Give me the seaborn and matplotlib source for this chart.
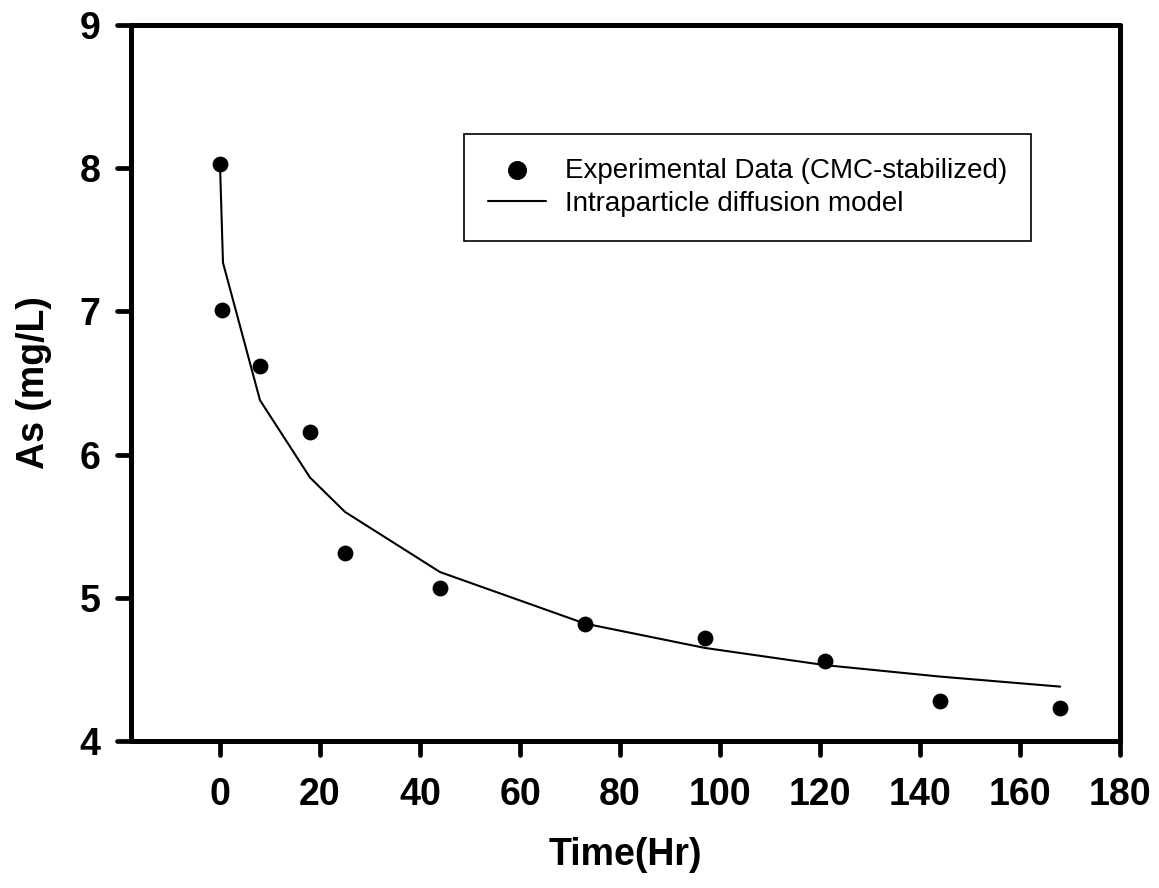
import matplotlib
matplotlib.use("Agg")
import matplotlib.pyplot as plt
from matplotlib.markers import MarkerStyle, TICKDOWN, TICKLEFT
import seaborn as sns
import pandas as pd

# Measured arsenic concentration over time (CMC-stabilized particles)
time_exp = [0, 0.5, 8, 18, 25, 44, 73, 97, 121, 144, 168]
as_exp = [8.03, 7.01, 6.62, 6.16, 5.31, 5.07, 4.82, 4.72, 4.56, 4.28, 4.23]

# Intraparticle diffusion model fit
time_model = [0, 0.6, 8, 18, 25, 44, 73, 97, 121, 144, 168]
as_model = [8.03, 7.34, 6.38, 5.84, 5.60, 5.18, 4.82, 4.65, 4.53, 4.45, 4.38]

x_ticks = [0, 20, 40, 60, 80, 100, 120, 140, 160, 180]
y_ticks = [4, 5, 6, 7, 8, 9]

label_exp = "Experimental Data (CMC-stabilized)"
label_model = "Intraparticle diffusion model"

sns.set_theme(style="white", rc={"text.color": "black", "axes.labelcolor": "black",
                                 "xtick.color": "black", "ytick.color": "black"})
plt.rcParams["font.family"] = ["Liberation Sans", "DejaVu Sans"]

df_exp = pd.DataFrame({"time": time_exp, "As": as_exp})
df_model = pd.DataFrame({"time": time_model, "As": as_model})

fig = plt.figure(figsize=(11.59, 8.88), dpi=100)
ax = fig.add_axes([0.113, 0.1655, 0.8535, 0.8063])

sns.scatterplot(data=df_exp, x="time", y="As", ax=ax, color="black",
                s=130, edgecolor="black", linewidth=0, label=label_exp, zorder=3)
sns.lineplot(data=df_model, x="time", y="As", ax=ax, color="black",
             linewidth=1.5, label=label_model, estimator=None, sort=False, zorder=2)

ax.set_xlim(-17.8, 180)
ax.set_ylim(4, 9)
ax.set_xticks(x_ticks)
ax.set_yticks(y_ticks)

for side in ["left", "right", "top", "bottom"]:
    ax.spines[side].set_visible(True)
    ax.spines[side].set_color("black")
    ax.spines[side].set_linewidth(3.6)
    ax.spines[side].set_capstyle("round")

ax.tick_params(axis="both", which="major", direction="out", length=10, width=3.4,
               color="black", labelsize=27, labelcolor="black",
               left=True, bottom=True, right=False, top=False)
ax.tick_params(axis="x", pad=16)
ax.tick_params(axis="y", pad=12)
for lab in ax.get_xticklabels() + ax.get_yticklabels():
    lab.set_fontweight("bold")

# rounded tick ends
for t in ax.xaxis.get_major_ticks():
    t.tick1line.set_marker(MarkerStyle(TICKDOWN, capstyle="round"))
for t in ax.yaxis.get_major_ticks():
    t.tick1line.set_marker(MarkerStyle(TICKLEFT, capstyle="round"))

ax.set_xlabel("Time(Hr)", fontsize=27, fontweight="bold", labelpad=17, color="black")
ax.set_ylabel("As (mg/L)", fontsize=27, fontweight="bold", labelpad=20, color="black")

leg = ax.legend(loc="upper left", bbox_to_anchor=(0.3367, 0.8478), borderaxespad=0,
                frameon=True, fancybox=False, fontsize=20, handlelength=2.1,
                handletextpad=0.68, borderpad=0.85, labelspacing=0.27,
                markerscale=1.2, framealpha=1.0)
leg.get_frame().set_edgecolor("black")
leg.get_frame().set_linewidth(1.2)
leg.get_frame().set_facecolor("white")
for txt in leg.get_texts():
    txt.set_color("black")

ax.grid(False)
fig.savefig("out.png", dpi=100)
